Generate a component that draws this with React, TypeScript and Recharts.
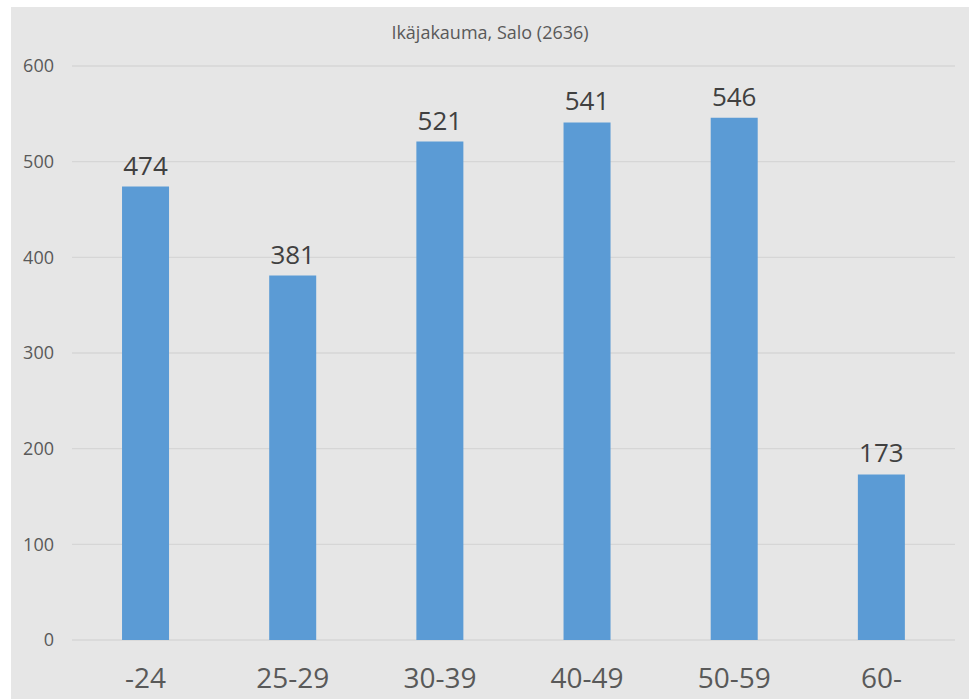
import { Bar, BarChart, CartesianGrid, LabelList, XAxis, YAxis } from "recharts"

const AGE_GROUPS = ["-24", "25-29", "30-39", "40-49", "50-59", "60-"]
const COUNTS = [474, 381, 521, 541, 546, 173]
const Y_TICKS = [0, 100, 200, 300, 400, 500, 600]
const TITLE = "Ikäjakauma, Salo (2636)"

const data = AGE_GROUPS.map((group, i) => ({ group, count: COUNTS[i] }))

const FONT = "'Open Sans', 'Noto Sans', sans-serif"
const TEXT = "#595959"

export default function App() {
  return (
    <div style={{ position: "absolute", left: 0, top: 0, width: 971, height: 699, background: "#fff" }}>
      <div
        style={{
          position: "absolute",
          left: 11,
          top: 7,
          width: 958,
          height: 692,
          background: "#e6e6e6",
          fontFamily: FONT,
        }}
      >
        <div
          style={{
            position: "absolute",
            top: 13,
            width: "100%",
            textAlign: "center",
            fontSize: 18,
            color: TEXT,
          }}
        >
          {TITLE}
        </div>
        <BarChart
          width={958}
          height={692}
          data={data}
          margin={{ top: 59, right: 14, bottom: 0, left: 0 }}
          barCategoryGap="34%"
        >
          <CartesianGrid vertical={false} stroke="#d6d6d6" strokeWidth={1.3} />
          <XAxis
            dataKey="group"
            axisLine={false}
            tickLine={false}
            tickSize={0}
            tickMargin={28}
            height={59}
            tick={{ fill: TEXT, fontSize: 28, fontFamily: FONT }}
          />
          <YAxis
            domain={[0, 600]}
            ticks={Y_TICKS}
            axisLine={false}
            tickLine={false}
            tickSize={0}
            tickMargin={18}
            width={61}
            tick={{ fill: TEXT, fontSize: 18, fontFamily: FONT }}
          />
          <Bar dataKey="count" fill="#5b9bd5" isAnimationActive={false}>
            <LabelList
              dataKey="count"
              position="top"
              offset={12}
              fill="#404040"
              fontSize={26}
              fontFamily={FONT}
            />
          </Bar>
        </BarChart>
      </div>
    </div>
  )
}
